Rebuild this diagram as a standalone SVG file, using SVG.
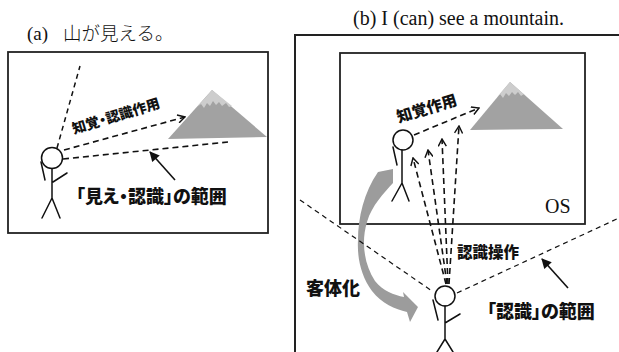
<svg xmlns="http://www.w3.org/2000/svg" width="619" height="352" viewBox="0 0 619 352">
  <style>
    .frame { fill: none; stroke: #222; stroke-width: 1.8; }
    .fig { fill: none; stroke: #111; stroke-width: 1.5; stroke-linecap: round; }
    .head { fill: #fff; stroke: #111; stroke-width: 1.5; }
    .dash { fill: none; stroke: #111; stroke-width: 1.6; stroke-dasharray: 6 4; }
    .thin { fill: none; stroke: #111; stroke-width: 1.2; stroke-dasharray: 5 4; }
    .solid { fill: none; stroke: #111; stroke-width: 1.6; }
    .title { fill: #111; }
    .label { font-family: "Noto Sans CJK JP", "Noto Sans", sans-serif; font-weight: 900; fill: #111; font-feature-settings: "palt" 1; }
    .rock { fill: #a2a2a2; }
    .snow { fill: #cdcdcd; }
  </style>
  <defs>
    <marker id="chev" viewBox="0 0 10 10" refX="9" refY="5" markerWidth="9" markerHeight="9" markerUnits="userSpaceOnUse" orient="auto">
      <path d="M1,0.5 L9,5 L1,9.5" fill="none" stroke="#111" stroke-width="1.6" stroke-dasharray="none"/>
    </marker>
    <marker id="tri" viewBox="0 0 10 10" refX="9" refY="5" markerWidth="11" markerHeight="10" markerUnits="userSpaceOnUse" orient="auto">
      <path d="M0,0 L10,5 L0,10 Z" fill="#111"/>
    </marker>
  </defs>

  <!-- panel titles -->
  <text class="title" font-family="'Liberation Serif', 'Times New Roman', serif" x="27" y="40" font-size="19">(a)</text>
  <text class="title" font-family="'Noto Sans CJK JP', sans-serif" font-weight="300" x="63" y="40" font-size="18.5">山が見える。</text>
  <text class="title" font-family="'Liberation Serif', 'Times New Roman', serif" x="353" y="25" font-size="20">(b) I (can) see a mountain.</text>

  <!-- panel (a) -->
  <g id="panel-a">
    <rect class="frame" x="8" y="52" width="260" height="181"/>
  </g>

  <g id="mountain-a">
    <polygon class="rock" points="212,90 168,139 267,137"/>
    <polygon class="snow" points="212,90 197,107 201,104 204,108 207,103 210,106 213,101 216,105 219,102 222,106 226,103 229,107 232,106"/>
  </g>

  <g id="person-a">
    <circle class="head" cx="52" cy="158" r="10.5"/>
    <path class="fig" d="M52,168.5 V198 M52,198 L42,218 M52,198 L60,218 M41,162 L45,180 M53,182 L67,173"/>
  </g>

  <g id="connectors-a">
    <line class="thin" x1="57" y1="148" x2="80" y2="66" style="stroke-width:1.5"/>
    <line class="dash" x1="64" y1="150" x2="185" y2="117" marker-end="url(#chev)"/>
    <line class="dash" x1="63" y1="159" x2="228" y2="142"/>
    <line class="solid" x1="175" y1="180" x2="150" y2="152" marker-end="url(#tri)"/>
  </g>

  <g id="labels-a">
    <text class="label" font-size="14" text-anchor="middle" transform="translate(116,116) rotate(-17)" x="0" y="5">知覚・認識作用</text>
    <text class="label" font-size="18" x="76" y="203">「見え・認識」の範囲</text>
  </g>

  <!-- panel (b) -->
  <g id="panel-b">
    <path class="frame" d="M295,352 V35 H619" style="stroke-width:2"/>
  </g>

  <g id="os">
    <rect class="frame" x="340" y="53" width="245" height="171"/>
    <text class="title" font-family="'Liberation Serif', 'Times New Roman', serif" x="545" y="213" font-size="20">OS</text>
  </g>

  <g id="mountain-b">
    <polygon class="rock" points="510,82 470,130 563,129"/>
    <polygon class="snow" points="510,82 497,97 500,94 503,98 506,93 509,96 512,92 515,95 518,92 521,96 524,94 527,97"/>
  </g>

  <g id="person-inner">
    <circle class="head" cx="403" cy="140" r="10"/>
    <path class="fig" d="M402,150 V183 M402,183 L392,201 M402,183 L409,201 M393,147 L397,165"/>
  </g>

  <g id="person-outer">
    <circle class="head" cx="445" cy="296" r="10"/>
    <path class="fig" d="M445,306 V339 M445,339 L437,352 M445,339 L453,352 M433,300 L438,320 M445,323 L460,314"/>
  </g>

  <g id="objectify-arrow">
    <path fill="#9c9c9c" d="M378,172 L393,169 L393,183 C384,193 372,205 367,222 C361,242 364,264 375,281 C383,291 394,295 404,297 L403,292 L418,307 L410,322 L407,312 C395,309 382,304 372,291 C361,276 357,258 358,240 C358,218 364,192 378,172 Z"/>
  </g>

  <g id="connectors-b">
    <line class="thin" x1="300" y1="200" x2="432" y2="291"/>
    <line class="thin" x1="457" y1="293" x2="619" y2="218"/>
    <line class="dash" x1="414" y1="135" x2="479" y2="108" marker-end="url(#chev)"/>
    <line class="dash" x1="446" y1="284" x2="413" y2="158" marker-end="url(#chev)"/>
    <line class="dash" x1="447" y1="284" x2="428" y2="150" marker-end="url(#chev)"/>
    <line class="dash" x1="448" y1="284" x2="442" y2="139" marker-end="url(#chev)"/>
    <line class="dash" x1="449" y1="284" x2="459" y2="126" marker-end="url(#chev)"/>
    <line class="solid" x1="568" y1="288" x2="542" y2="259" marker-end="url(#tri)"/>
  </g>

  <g id="labels-b">
    <text class="label" font-size="15.5" text-anchor="middle" transform="translate(427,109) rotate(-17)" x="0" y="5">知覚作用</text>
    <text class="label" font-size="15.5" x="457" y="258">認識操作</text>
    <text class="label" font-size="18" x="306" y="295">客体化</text>
    <text class="label" font-size="18" x="487" y="318">「認識」の範囲</text>
  </g>
</svg>
